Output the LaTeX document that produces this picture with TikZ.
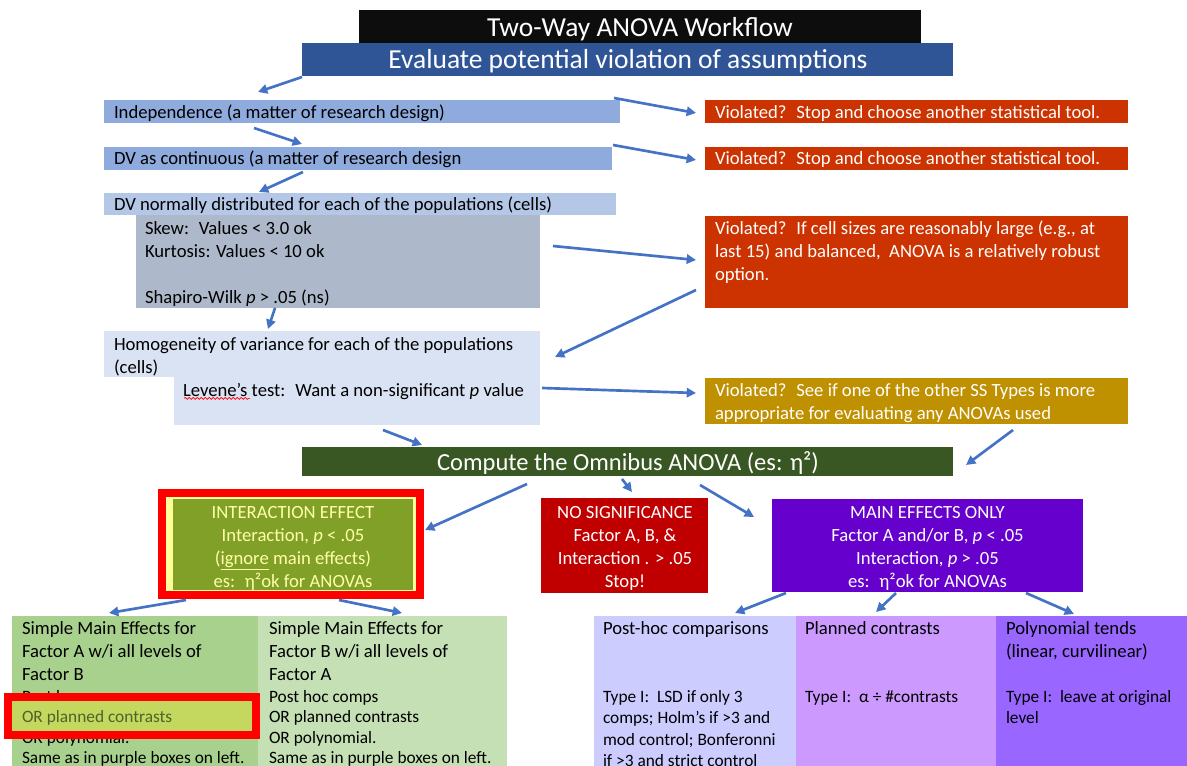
\documentclass[tikz,border=0pt]{standalone}
\usepackage{fontspec}
\setmainfont{Carlito}
\usetikzlibrary{arrows.meta,calc,fit,decorations.pathmorphing}
\definecolor{titleblack}{HTML}{0D0D0D}
\definecolor{evalblue}{HTML}{2F5597}
\definecolor{blueA}{HTML}{8FAADC}
\definecolor{blueB}{HTML}{B4C7E7}
\definecolor{grayA}{HTML}{ADB9CA}
\definecolor{blueC}{HTML}{DAE3F3}
\definecolor{violred}{HTML}{CC3300}
\definecolor{violgold}{HTML}{BF9000}
\definecolor{omnigreen}{HTML}{385723}
\definecolor{intgreen}{HTML}{80A028}
\definecolor{paleyellow}{HTML}{FFFF99}
\definecolor{inttext}{HTML}{FFFFA8}
\definecolor{nosigred}{HTML}{C00000}
\definecolor{mainpurple}{HTML}{6600CC}
\definecolor{greenA}{HTML}{A9D18E}
\definecolor{greenB}{HTML}{C5E0B4}
\definecolor{lavA}{HTML}{CCCCFF}
\definecolor{lavB}{HTML}{CC99FF}
\definecolor{lavC}{HTML}{9966FF}
\definecolor{hlgreen}{HTML}{C4D860}
\definecolor{hltext}{HTML}{4F6228}
\definecolor{arrowblue}{HTML}{4472C4}
\begin{document}
\begin{tikzpicture}[x=0.75pt,y=-0.75pt,
  box/.style={inner sep=0pt, outer sep=0pt, draw=none},
  txt/.style={inner sep=0pt, outer sep=0pt, anchor=north west, align=left, font=\fontsize{14}{17.25}\selectfont},
  ctxt/.style={inner sep=0pt, outer sep=0pt, anchor=north, align=center, font=\fontsize{14}{17.25}\selectfont},
  smalltxt/.style={txt, font=\fontsize{13}{15.2}\selectfont},
  smalltxtb/.style={txt, font=\fontsize{13}{16}\selectfont},
  headtxt/.style={inner sep=0pt, outer sep=0pt, anchor=base, text=white},
  arr/.style={draw=arrowblue, line width=2pt, -{Triangle[length=7pt,width=7pt]}},
]
\useasboundingbox (0,0) rectangle (1187,766);

% ---------- boxes ----------
\node[box, fill=titleblack, fit={(359,10)(921,43)}] (title) {};
\node[box, fill=evalblue, fit={(302,43)(953,76)}] (eval) {};
\node[box, fill=blueA, fit={(104,100)(620,123)}] (indep) {};
\node[box, fill=blueA, fit={(104,147)(612,170)}] (dvc) {};
\node[box, fill=blueB, fit={(104,193)(616,215)}] (dvn) {};
\node[box, fill=grayA, fit={(136,215)(540,308)}] (gray) {};
\node[box, fill=blueC, fit={(104,331)(540,377)}] (homogA) {};
\node[box, fill=blueC, fit={(174,377)(540,425)}] (homogB) {};
\node[box, fill=violred, fit={(705,100)(1128,123)}] (vA) {};
\node[box, fill=violred, fit={(705,147)(1128,170)}] (vB) {};
\node[box, fill=violred, fit={(705,216)(1128,308)}] (vC) {};
\node[box, fill=violgold, fit={(705,378)(1128,424)}] (vD) {};
\node[box, fill=omnigreen, fit={(302,447)(953,476)}] (omni) {};
\node[box, draw=red, line width=6pt, fill=paleyellow, fit={(162,493)(420,595)}] (inter) {};
\node[box, fill=intgreen, fit={(173,499)(413,590)}] (intergreen) {};
\node[box, fill=nosigred, fit={(541,498)(708,593)}] (nosig) {};
\node[box, fill=mainpurple, fit={(772,499)(1083,592)}] (main) {};
\node[box, fill=greenA, fit={(12,616)(258,766)}] (simA) {};
\node[box, fill=greenB, fit={(258,616)(507,766)}] (simB) {};
\node[box, fill=lavA, fit={(594,616)(796,766)}] (post) {};
\node[box, fill=lavB, fit={(796,616)(996,766)}] (plan) {};
\node[box, fill=lavC, fit={(996,616)(1187,766)}] (poly) {};

% ---------- texts ----------
\node[headtxt, font=\fontsize{20.6}{24}\selectfont] (titletxt) at (640,36.5) {Two-Way ANOVA Workflow};
\node[headtxt, font=\fontsize{20.6}{24}\selectfont] (evaltxt) at (628,69) {Evaluate potential violation of assumptions};
\node[headtxt, font=\fontsize{18.4}{22}\selectfont] (omnitxt) at (628,470) {Compute the Omnibus ANOVA (es: η²)};

\node[txt] (indeptxt) at (114,102.6) {\strut Independence (a matter of research design)};
\node[txt] (dvctxt) at (114,148.6) {\strut DV as continuous (a matter of research design};
\node[txt] (dvntxt) at (114,194.6) {\strut DV normally distributed for each of the populations (cells)};
\node[txt] (graytxt) at (145,218.4) {\strut Skew:~ Values < 3.0 ok\\Kurtosis: Values < 10 ok\\~\\Shapiro-Wilk \textit{p} > .05 (ns)};
\node[txt] (homogtxt) at (114,334.4) {\strut Homogeneity of variance for each of the populations\\(cells)};
\node[txt] (levtxt) at (183,380.4) {\strut Levene’s test:~ Want a non-significant \textit{p} value};
\draw[red, line width=0.5pt, decorate, decoration={snake, amplitude=0.7pt, segment length=3pt}]
  ($(levtxt.north west)+(1,18)$) -- ($(levtxt.north west)+(67,18)$);

\node[txt, text=white] (vAtxt) at (715,102.4) {\strut Violated?~ Stop and choose another statistical tool.};
\node[txt, text=white] (vBtxt) at (715,148.4) {\strut Violated?~ Stop and choose another statistical tool.};
\node[txt, text=white] (vCtxt) at (715,218.4) {\strut Violated?~ If cell sizes are reasonably large (e.g., at\\last 15) and balanced,~ ANOVA is a relatively robust\\option.};
\node[txt, text=white] (vDtxt) at (715,380.4) {\strut Violated?~ See if one of the other SS Types is more\\appropriate for evaluating any ANOVAs used};

\node[ctxt, text=inttext] (intertxt) at (293,502.4) {\strut INTERACTION EFFECT\\Interaction, \textit{p} < .05\\(\underline{ignore} main effects)\\es:~ η²ok for ANOVAs};
\node[ctxt, text=white] (nosigtxt) at (625,502.4) {\strut NO SIGNIFICANCE\\Factor A, B, \&\\Interaction . > .05\\Stop!};
\node[ctxt, text=white] (maintxt) at (927.5,502.4) {\strut MAIN EFFECTS ONLY\\Factor A and/or B, \textit{p} < .05\\Interaction, \textit{p} > .05\\es:~ η²ok for ANOVAs};

\node[txt] (simAhead) at (22,618.4) {\strut Simple Main Effects for\\Factor A w/i all levels of\\Factor B};
\node[smalltxt] (simAone) at (22,688.4) {\strut Post hoc comps};
\node[smalltxt] (simAthree) at (22,729.4) {\strut OR polynomial.\\Same as in purple boxes on left.};
\node[box, draw=red, line width=6pt, fill=hlgreen, fit={(8,697)(256,735)}] (hl) {};
\node[smalltxt, text=hltext] (simAtwo) at (22,708.4) {\strut OR planned contrasts};

\node[txt] (simBhead) at (269,618.4) {\strut Simple Main Effects for\\Factor B w/i all levels of\\Factor A};
\node[smalltxt] (simBbody) at (269,688.4) {\strut Post hoc comps\\OR planned contrasts\\OR polynomial.\\Same as in purple boxes on left.};

\node[txt] (posthead) at (603,618.4) {\strut Post-hoc comparisons};
\node[smalltxtb] (postbody) at (603,687.4) {\strut Type I:~ LSD if only 3\\comps; Holm’s if >3 and\\mod control; Bonferonni\\if >3 and strict control};
\node[txt] (planhead) at (805,618.4) {\strut Planned contrasts};
\node[smalltxtb] (planbody) at (805,687.4) {\strut Type I:~ α ÷ \#contrasts};
\node[txt] (polyhead) at (1006,618.4) {\strut Polynomial tends\\(linear, curvilinear)};
\node[smalltxtb] (polybody) at (1006,687.4) {\strut Type I:~ leave at original\\level};

% ---------- arrows ----------
\draw[arr] ($(eval.north west)+(0,34)$) -- ($(indep.north west)+(154,-8)$);
\draw[arr] ($(indep.north west)+(510,-2)$) -- ($(vA.north west)+(-9,13)$);
\draw[arr] ($(indep.north west)+(150,28)$) -- ($(dvc.north west)+(198,-3)$);
\draw[arr] ($(dvc.north west)+(509,-2)$) -- ($(vB.north west)+(-9,13)$);
\draw[arr] ($(dvc.north west)+(199,25)$) -- ($(dvn.north west)+(155,-1)$);
\draw[arr] ($(gray.north west)+(417,31)$) -- ($(vC.north west)+(-9,44)$);
\draw[arr] ($(gray.north west)+(139,93)$) -- ($(homogA.north west)+(164,-2)$);
\draw[arr] ($(vC.north west)+(-9,74)$) -- ($(homogA.north west)+(451,26)$);
\draw[arr] ($(homogB.north west)+(368,11)$) -- ($(vD.north west)+(-9,15)$);
\draw[arr] ($(vD.north west)+(308,52)$) -- ($(omni.north west)+(664,18)$);
\draw[arr] ($(homogB.north west)+(209,53)$) -- ($(omni.north west)+(120,-2)$);
\draw[arr] ($(omni.north west)+(225,37)$) -- ($(inter.north west)+(263,37)$);
\draw[arr] ($(omni.north west)+(320,32)$) -- ($(nosig.north west)+(91,-6)$);
\draw[arr] ($(omni.north west)+(398,38)$) -- ($(main.north west)+(-18,18)$);
\draw[arr] ($(inter.north west)+(24,107)$) -- ($(simA.north west)+(97,-3)$);
\draw[arr] ($(inter.north west)+(177,107)$) -- ($(simB.north west)+(144,-3)$);
\draw[arr] ($(main.north west)+(14,94)$) -- ($(post.north west)+(141,-3)$);
\draw[arr] ($(main.north west)+(124,94)$) -- ($(plan.north west)+(80,-4)$);
\draw[arr] ($(main.north west)+(254,94)$) -- ($(poly.north west)+(78,-2)$);
\end{tikzpicture}
\end{document}
